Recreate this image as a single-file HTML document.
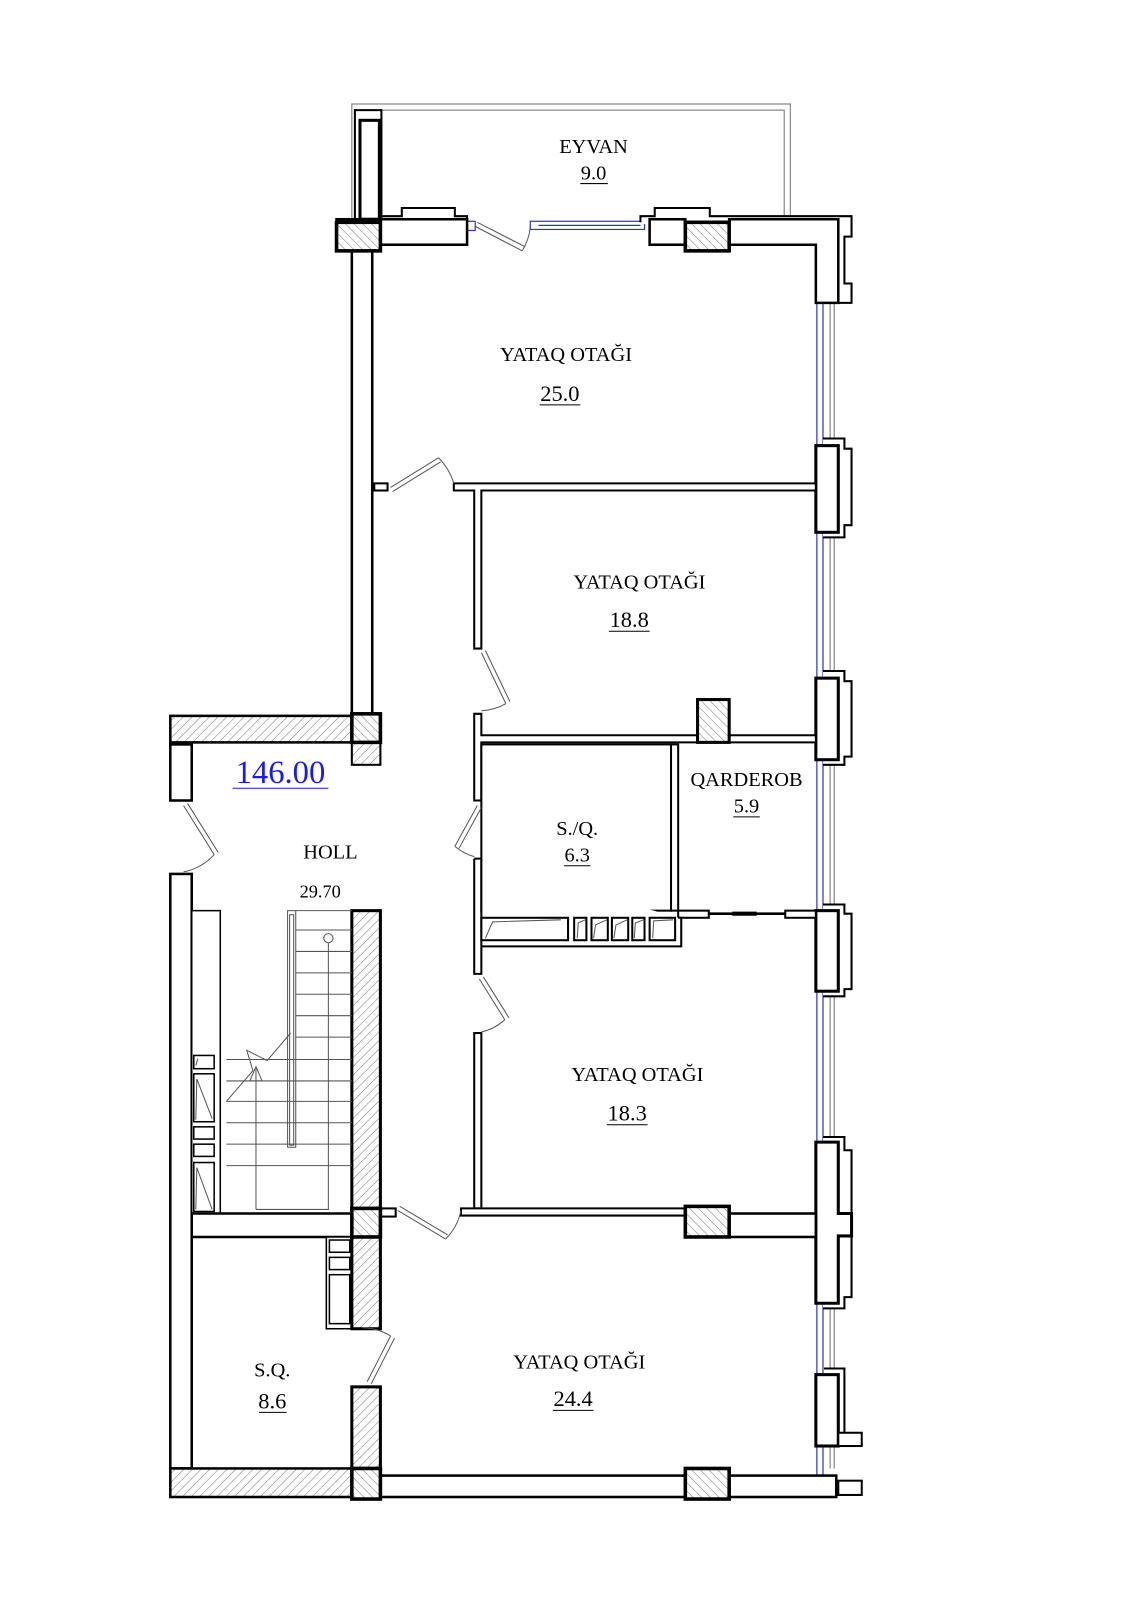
<!DOCTYPE html>
<html><head><meta charset="utf-8"><style>
html,body{margin:0;padding:0;background:#fff}
svg{display:block}
text{font-family:"Liberation Serif",serif;fill:#000;text-anchor:middle}
</style></head><body>
<svg width="1132" height="1600" viewBox="0 0 1110 1569" preserveAspectRatio="none" xmlns="http://www.w3.org/2000/svg">
<defs>
<pattern id="h" width="6" height="6" patternUnits="userSpaceOnUse" patternTransform="rotate(45)">
<rect width="6" height="6" fill="#fff"/><line x1="0" y1="0" x2="0" y2="6" stroke="#777" stroke-width="1"/></pattern>
<pattern id="h2" width="6" height="6" patternUnits="userSpaceOnUse" patternTransform="rotate(-45)">
<rect width="6" height="6" fill="#fff"/><line x1="0" y1="0" x2="0" y2="6" stroke="#777" stroke-width="1"/></pattern>
</defs>
<g fill="none" stroke="#888" stroke-width="1.2">
<path d="M345,215 V102 H775 V212"/>
<path d="M352,108 H769 V212"/>
<line x1="814" y1="297" x2="814" y2="1440"/><line x1="818" y1="297" x2="818" y2="1440"/>
</g>
<g fill="none" stroke="#33c" stroke-width="1.2">
<line x1="801" y1="297" x2="801" y2="1450"/><line x1="807" y1="297" x2="807" y2="1450"/>
<rect x="458" y="217" width="8" height="9"/><rect x="520" y="217" width="112" height="8"/><line x1="528" y1="221" x2="628" y2="221"/>
</g>
<g fill="#fff" stroke="#000" stroke-width="2.5">
<rect x="348" y="108" width="26" height="107" stroke-width="2"/>
<rect x="353" y="118" width="19" height="97" stroke-width="3"/>
<path d="M374,212 H394 V204 H446 V212 H458 V218" stroke-width="2"/>
<rect x="330" y="215" width="128" height="25"/>
<path d="M628,218 V212 H642 V204 H696 V212 H835 V232 H828 V278 H835 V297 H818" stroke-width="2"/>
<rect x="637" y="215" width="35" height="25"/>
<path d="M715,215 H822 V297 H800 V240 H715 Z"/>
<rect x="345" y="246" width="20" height="454"/>
<!-- piers -->
<path d="M807,430 H828 V440 H835 V515 H828 V527 H807" stroke-width="2"/><rect x="800" y="437" width="22" height="85" stroke-width="3"/>
<path d="M807,658 H828 V668 H835 V742 H828 V750 H807" stroke-width="2"/><rect x="800" y="665" width="22" height="80" stroke-width="3"/>
<path d="M807,887 H828 V896 H835 V970 H828 V977 H807" stroke-width="2"/><rect x="800" y="893" width="22" height="79" stroke-width="3"/>
<path d="M807,1115 H828 V1128 H835 V1272 H828 V1283 H807" stroke-width="2"/>
<path d="M800,1120 H822 V1190 H835 V1212 H822 V1278 H800 Z" stroke-width="3"/>
<path d="M808,1342 H828 V1405" stroke-width="2"/><rect x="800" y="1348" width="22" height="70" stroke-width="3"/>
<rect x="822" y="1405" width="23" height="13" stroke-width="2"/>
<rect x="822" y="1452" width="23" height="14" stroke-width="2"/>
<!-- partitions -->
<rect x="367" y="474" width="13" height="7" stroke-width="2"/>
<path d="M445,474 H800 V481 H472 V636 H465 V481 H445 Z" stroke-width="2"/>
<path d="M465,700 H472 V721 H800 V728 H472 V785 H465 Z" stroke-width="2"/>
<rect x="684" y="686" width="31" height="42" fill="url(#h2)" stroke-width="3"/>
<rect x="472" y="730" width="186" height="163" stroke-width="2"/>
<rect x="658" y="730" width="7" height="163" stroke-width="2"/>
<rect x="665" y="893" width="30" height="7" stroke-width="2"/><rect x="770" y="893" width="30" height="7" stroke-width="2"/>
<path d="M465,842 H472 V928 H668 V900 H665 M465,842 V955 H472 V928" stroke-width="2"/>
<rect x="472" y="900" width="85" height="22" stroke-width="2"/>
<rect x="563" y="900" width="12" height="22" stroke-width="2"/><rect x="580" y="900" width="16" height="22" stroke-width="2"/>
<rect x="600" y="900" width="16" height="22" stroke-width="2"/><rect x="620" y="900" width="12" height="22" stroke-width="2"/>
<rect x="637" y="900" width="25" height="22" stroke-width="2"/>
<rect x="465" y="1013" width="7" height="172" stroke-width="2"/>
<path d="M452,1185 H672 V1192 H452 Z" stroke-width="2"/>
<rect x="715" y="1190" width="85" height="23"/>
<!-- holl -->
<rect x="167" y="702" width="178" height="26" fill="url(#h)"/>
<rect x="345" y="728" width="28" height="22" fill="url(#h)" stroke-width="2"/>
<rect x="345" y="700" width="28" height="28" fill="url(#h2)" stroke-width="3.5"/>
<rect x="167" y="730" width="21" height="55"/>
<rect x="167" y="857" width="21" height="583"/>
<rect x="188" y="893" width="28" height="297" stroke-width="1.5"/>
<rect x="190" y="1035" width="20" height="13" stroke-width="1.5"/><rect x="190" y="1053" width="20" height="47" stroke-width="1.5"/>
<rect x="190" y="1105" width="20" height="12" stroke-width="1.5"/><rect x="190" y="1122" width="20" height="12" stroke-width="1.5"/>
<rect x="190" y="1140" width="20" height="48" stroke-width="1.5"/>
<rect x="345" y="893" width="28" height="292" fill="url(#h)" stroke-width="3"/>
<path d="M188,1190 H345 M188,1213 H345"/>
<rect x="373" y="1185" width="15" height="8" stroke-width="2"/>
<rect x="320" y="1213" width="25" height="90" stroke-width="1.5"/>
<rect x="323" y="1216" width="20" height="12" stroke-width="1.5"/><rect x="323" y="1233" width="20" height="12" stroke-width="1.5"/><rect x="323" y="1250" width="20" height="48" stroke-width="1.5"/>
<rect x="345" y="1213" width="28" height="90" fill="url(#h)" stroke-width="3"/>
<rect x="345" y="1360" width="28" height="80" fill="url(#h)" stroke-width="3"/>
<!-- bottom -->
<rect x="167" y="1440" width="178" height="28" fill="url(#h)"/>
<rect x="373" y="1447" width="299" height="21"/>
<rect x="715" y="1447" width="105" height="21"/>
<!-- columns -->
<rect x="330" y="218" width="43" height="28" fill="url(#h2)" stroke-width="3.5"/>
<rect x="672" y="218" width="43" height="28" fill="url(#h2)" stroke-width="3.5"/>
<rect x="672" y="1183" width="43" height="30" fill="url(#h2)" stroke-width="3.5"/>
<rect x="345" y="1185" width="28" height="28" fill="url(#h2)" stroke-width="3.5"/>
<rect x="345" y="1440" width="28" height="30" fill="url(#h2)" stroke-width="3.5"/>
<rect x="672" y="1440" width="43" height="30" fill="url(#h2)" stroke-width="3.5"/>
</g>
<line x1="695" y1="896" x2="770" y2="896" stroke="#000" stroke-width="2.5"/><line x1="718" y1="896" x2="742" y2="896" stroke="#000" stroke-width="4"/>
<!-- doors -->
<g fill="none" stroke="#555" stroke-width="1">
<path d="M466,222 L512,246 M468,218 L515,242"/><path d="M512,246 A52,52 0 0 0 520,222"/>
<path d="M383,478 L430,449 M385,482 L432,453"/><path d="M430,449 A60,60 0 0 1 445,474"/>
<path d="M472,640 L496,690 M476,638 L500,688"/><path d="M496,690 A55,55 0 0 1 472,697"/>
<path d="M468,790 L446,830 M472,792 L450,832"/><path d="M446,830 A50,50 0 0 0 465,840"/>
<path d="M470,960 L495,1000 M474,958 L499,998"/><path d="M495,1000 A50,50 0 0 1 472,1012"/>
<path d="M180,790 L210,838 M184,788 L214,836"/><path d="M210,838 A55,55 0 0 1 180,855"/>
<path d="M390,1187 L437,1215 M392,1183 L439,1211"/><path d="M437,1215 A55,55 0 0 0 452,1187"/>
<path d="M383,1310 L360,1355 M387,1312 L364,1357"/><path d="M383,1310 A55,55 0 0 0 355,1302"/>
<!-- stairs -->
<rect x="282" y="893" width="8" height="232"/><rect x="284" y="897" width="4" height="226"/>
<path d="M290,893 H345 M290,912 H345 M290,933 H345 M290,954 H345 M290,975 H345 M290,996 H345 M290,1017 H345 M222,1039 H345 M222,1060 H345 M222,1080 H345 M222,1101 H345 M222,1122 H345 M222,1143 H345"/>
<path d="M222,1080 L248,1050 L242,1030 L262,1040 L285,1013"/>
<path d="M251,1186 V1048 M245,1060 L251,1046 L257,1060 Z M251,1186 H322 V925"/>
<circle cx="322" cy="920" r="4.5"/>
<path d="M476,920 L483,904 L550,902 M566,920 L567,905 L574,902 M582,920 L584,907 L595,902 M602,920 L604,907 L615,902 M622,920 L623,905 L631,902 M640,920 L641,903 L660,902"/>
<path d="M192,1045 L194,1038 M192,1098 L193,1058 L208,1097 M192,1186 L193,1145 L208,1186"/>
</g>
<!-- labels -->
<g font-size="20">
<text x="582" y="150">EYVAN</text>
<text x="582" y="176">9.0</text><line x1="569" y1="180" x2="596" y2="180" stroke="#000"/>
<text x="555" y="354">YATAQ OTAĞI</text>
<text x="549" y="393" font-size="22">25.0</text><line x1="529" y1="397" x2="569" y2="397" stroke="#000"/>
<text x="627" y="577">YATAQ OTAĞI</text>
<text x="617" y="615" font-size="22">18.8</text><line x1="597" y1="619" x2="637" y2="619" stroke="#000"/>
<text x="732" y="771">QARDEROB</text>
<text x="732" y="797">5.9</text><line x1="719" y1="801" x2="745" y2="801" stroke="#000"/>
<text x="566" y="819">S./Q.</text>
<text x="566" y="845">6.3</text><line x1="553" y1="849" x2="579" y2="849" stroke="#000"/>
<text x="324" y="842">HOLL</text>
<text x="314" y="880" font-size="18">29.70</text>
<text x="275" y="768" font-size="32" style="fill:#1a1aee">146.00</text><line x1="228" y1="773" x2="322" y2="773" stroke="#1a1aee"/>
<text x="625" y="1060">YATAQ OTAĞI</text>
<text x="615" y="1099" font-size="22">18.3</text><line x1="595" y1="1103" x2="635" y2="1103" stroke="#000"/>
<text x="267" y="1350">S.Q.</text>
<text x="267" y="1381" font-size="22">8.6</text><line x1="254" y1="1385" x2="281" y2="1385" stroke="#000"/>
<text x="568" y="1342">YATAQ OTAĞI</text>
<text x="562" y="1379" font-size="22">24.4</text><line x1="542" y1="1383" x2="582" y2="1383" stroke="#000"/>
</g>
</svg>
</body></html>
